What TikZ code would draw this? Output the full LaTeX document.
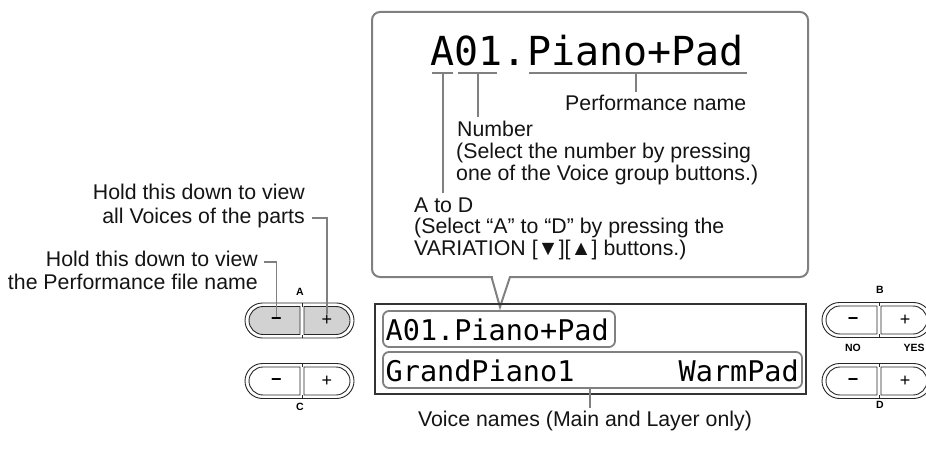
\documentclass[tikz,border=0pt]{standalone}
\usepackage{fontspec}
\setmainfont{Liberation Sans}
\newfontfamily\lcdfont{DejaVu Sans Mono}
\usetikzlibrary{shapes.misc}
\definecolor{leadc}{HTML}{808080}
\definecolor{framec}{HTML}{808080}
\definecolor{btnfill}{HTML}{D2D2D2}
\tikzset{
  lbl/.style={font=\fontsize{21.3}{22}\selectfont, inner sep=0pt, text=black!92},
  lbll/.style={lbl, anchor=base west},
  lblr/.style={lbl, anchor=base east},
  leader/.style={draw=leadc, line width=1.8pt},
  lcd/.style={font=\lcdfont\fontsize{28.5}{30}\selectfont, inner sep=0pt},
  tinylbl/.style={font=\bfseries\fontsize{10.5}{11}\selectfont, inner sep=0pt},
  pillout/.style={draw=black!85, line width=0.9pt, rounded rectangle, inner sep=0pt,
    minimum height=35pt, minimum width=109pt},
  halfl/.style={draw=black!85, line width=0.9pt, rounded rectangle, rounded rectangle right arc=none,
    inner sep=0pt, minimum height=28pt, minimum width=51pt},
  halfr/.style={draw=black!85, line width=0.9pt, rounded rectangle, rounded rectangle left arc=none,
    inner sep=0pt, minimum height=28pt, minimum width=46pt},
  symb/.style={font=\fontsize{18}{18}\selectfont, inner sep=1pt},
  rowbox/.style={draw=framec, line width=1.8pt, rounded corners=6pt, minimum height=36pt, inner sep=0pt},
}
\begin{document}
\begin{tikzpicture}[x=1pt, y=-1pt]
\useasboundingbox (0,0) rectangle (926,449);

% ---- callout ----
\draw[framec, line width=2pt, fill=white, rounded corners=8pt] (372,12) rectangle (808,277);
\fill[white] (492.8,274.5) rectangle (508.6,279);
\draw[framec, line width=2pt, line join=miter] (491.5,277) -- (500,307) -- (510,277);

% big title
\node[lcd, font=\lcdfont\fontsize{40}{42}\selectfont, anchor=base west] (title) at (430.5,66) {A01.Piano+Pad};
\draw[leadc, line width=1.8pt] (432,73) -- (453,73);
\draw[leadc, line width=1.8pt] (458,73) -- (497,73);
\draw[leadc, line width=1.8pt] (529,73) -- (747,73);
\coordinate (ulA) at (443,73);
\coordinate (ulN) at (478,73);
\coordinate (ulP) at (636,73);

% callout labels
\node[lbll] (perf) at (565,111) {Performance name};
\node[lbll] (num1) at (457,137) {Number};
\node[lbll] (num2) at (456,159) {(Select the number by pressing};
\node[lbll] (num3) at (456,181) {one of the Voice group buttons.)};
\node[lbll] (atd1) at (414,212) {A to D};
\node[lbll] (atd2) at (414,233.5) {(Select “A” to “D” by pressing the};
\node[lbll] (atd3) at (414,255) {VARIATION [▼][▲] buttons.)};

\coordinate (perfend) at (636,92);
\coordinate (numend) at (478,117);
\coordinate (atdend) at (443,193);
\draw[leader] (ulP) -- (perfend);
\draw[leader] (ulN) -- (numend);
\draw[leader] (ulA) -- (atdend);

% ---- LCD ----
\draw[black!80, line width=1.1pt] (375,304) rectangle (806,394);
\node[rowbox, minimum width=232pt] (row1) at (499,329) {};
\node[rowbox, minimum width=419pt] (row2) at (592.5,370) {};
\node[lcd, anchor=west] (lcd1) at (385.5,329.5) {A01.Piano+Pad};
\node[lcd, anchor=west] (lcd2) at (385.5,370.5) {GrandPiano1};
\node[lcd, anchor=east] (lcd3) at (799,370.5) {WarmPad};

\node[lbl, anchor=base] (voice) at (585,426) {Voice names (Main and Layer only)};
\coordinate (vend) at (590,408);
\draw[leader] (row2.south -| vend) -- (vend);

% ---- left texts ----
\node[lblr] (h1) at (305,200) {Hold this down to view};
\node[lblr] (h2) at (305,223) {all Voices of the parts};
\node[lblr] (h3) at (258,266) {Hold this down to view};
\node[lblr] (h4) at (258,289) {the Performance file name};

% ---- button A ----
\node[pillout] (Aout) at (299.5,320.5) {};
\node[halfl, fill=btnfill] (Aminus) at (274.5,320.5) {};
\node[halfr, fill=btnfill] (Aplus) at (327,320.5) {};
\draw[black!85, line width=0.9pt] (302,303) -- (302,306.5) (302,334.5) -- (302,338);
\node[symb, font=\bfseries\fontsize{18}{18}\selectfont] (Am) at (276.5,321.5) {−};
\node[symb] (Ap) at (327,320.5) {+};
\node[tinylbl] (labA) at (300,292) {A};

% ---- button C ----
\node[pillout] (Cout) at (299.5,381) {};
\node[halfl] (Cminus) at (274.5,381) {};
\node[halfr] (Cplus) at (327,381) {};
\draw[black!85, line width=0.9pt] (302,363.5) -- (302,367) (302,395) -- (302,398.5);
\node[symb, font=\bfseries\fontsize{18}{18}\selectfont] (Cm) at (276.5,382) {−};
\node[symb] (Cp) at (327,381) {+};
\node[tinylbl] (labC) at (300,407) {C};

% ---- button B ----
\node[pillout] (Bout) at (876.5,320) {};
\node[halfl] (Bminus) at (851.5,320) {};
\node[halfr] (Bplus) at (904,320) {};
\draw[black!85, line width=0.9pt] (879,302.5) -- (879,306) (879,334) -- (879,337.5);
\node[symb, font=\bfseries\fontsize{18}{18}\selectfont] (Bm) at (853,321) {−};
\node[symb] (Bp) at (905,320) {+};
\node[tinylbl] (labB) at (880,290) {B};
\node[tinylbl] (labNO) at (853,347.5) {NO};
\node[tinylbl] (labYES) at (914,347.5) {YES};

% ---- button D ----
\node[pillout] (Dout) at (876.5,381) {};
\node[halfl] (Dminus) at (851.5,381) {};
\node[halfr] (Dplus) at (904,381) {};
\draw[black!85, line width=0.9pt] (879,363.5) -- (879,367) (879,395) -- (879,398.5);
\node[symb, font=\bfseries\fontsize{18}{18}\selectfont] (Dm) at (853,382) {−};
\node[symb] (Dp) at (905,381) {+};
\node[tinylbl] (labD) at (880,405) {D};

% ---- left leaders ----
\coordinate (h2s) at (312,218);
\coordinate (h3s) at (264,262);
\draw[leader] (h2s) -| (Ap.north);
\draw[leader] (h3s) -| (Am.north);
\end{tikzpicture}
\end{document}
